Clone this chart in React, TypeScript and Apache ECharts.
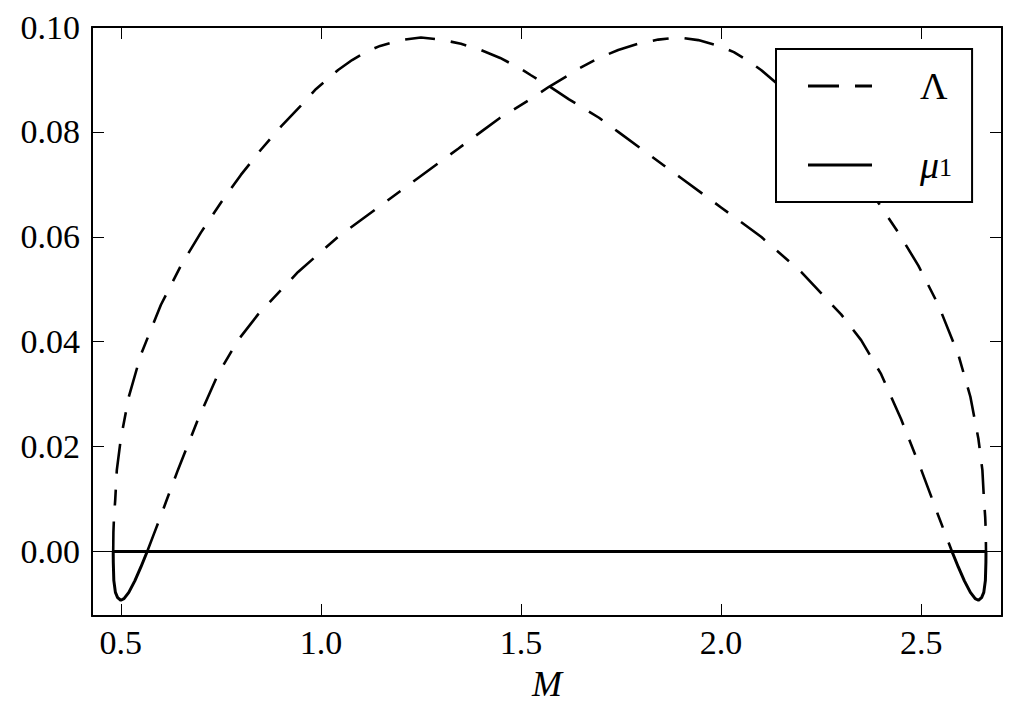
import React, { useEffect, useRef } from "react";
import * as echarts from "echarts";

const xMin = 0.428;
const xMax = 2.702;
const yMin = -0.0123;
const yMax = 0.1;
const xTicks = [0.5, 1.0, 1.5, 2.0, 2.5];
const yTicks = [0, 0.02, 0.04, 0.06, 0.08, 0.1];

const lambdaA: [number, number][] = [
  [0.481, 0], [0.4815, 0.0037], [0.483, 0.0066], [0.486, 0.0098], [0.49, 0.0155],
  [0.5, 0.0215], [0.52, 0.0295], [0.55, 0.0375], [0.6, 0.047], [0.65, 0.0545],
  [0.7, 0.0608], [0.75, 0.0665], [0.8, 0.0718], [0.85, 0.0766], [0.9, 0.081],
  [0.95, 0.085], [0.988, 0.0882], [1.043, 0.0918], [1.078, 0.0937], [1.111, 0.0952],
  [1.148, 0.0964], [1.2, 0.0975], [1.25, 0.098], [1.3, 0.0976], [1.35, 0.0968],
  [1.4, 0.0956], [1.448, 0.0941], [1.5, 0.092], [1.525, 0.0908], [1.573, 0.0886],
  [1.62, 0.0862], [1.695, 0.0827], [1.743, 0.08], [1.8, 0.0768], [1.9, 0.0712],
  [2.0, 0.0656], [2.1, 0.06], [2.2, 0.0533], [2.3, 0.0452], [2.35, 0.0403],
  [2.4, 0.0338], [2.45, 0.0252], [2.5, 0.0156], [2.527, 0.0101], [2.542, 0.007],
  [2.56, 0.0034], [2.577, 0],
];

const lambdaB: [number, number][] = [
  [0.566, 0], [0.583, 0.0034], [0.601, 0.007], [0.616, 0.0101], [0.643, 0.0156],
  [0.693, 0.0252], [0.743, 0.0338], [0.793, 0.0403], [0.843, 0.0452], [0.943, 0.0533],
  [1.043, 0.06], [1.143, 0.0656], [1.243, 0.0712], [1.343, 0.0768], [1.4, 0.08],
  [1.448, 0.0827], [1.523, 0.0862], [1.57, 0.0886], [1.618, 0.0908], [1.643, 0.092],
  [1.695, 0.0941], [1.743, 0.0956], [1.793, 0.0968], [1.843, 0.0976], [1.893, 0.098],
  [1.943, 0.0975], [1.995, 0.0964], [2.032, 0.0952], [2.065, 0.0937], [2.1, 0.0918],
  [2.155, 0.0882], [2.193, 0.085], [2.243, 0.081], [2.293, 0.0766], [2.343, 0.0718],
  [2.393, 0.0665], [2.443, 0.0608], [2.493, 0.0545], [2.543, 0.047], [2.593, 0.0375],
  [2.623, 0.0295], [2.643, 0.0215], [2.653, 0.0155], [2.657, 0.0098], [2.66, 0.0066],
  [2.6615, 0.0037], [2.662, 0],
];

const mu1Zero: [number, number][] = [[0.481, 0], [2.662, 0]];
const mu1DipLeft: [number, number][] = [
  [0.481, 0], [0.4812, -0.002], [0.4825, -0.0055], [0.4865, -0.0078], [0.492, -0.0088],
  [0.5, -0.0093], [0.508, -0.009], [0.52, -0.0078], [0.535, -0.0056], [0.55, -0.003], [0.566, 0],
];
const mu1DipRight: [number, number][] = [
  [2.577, 0], [2.593, -0.003], [2.608, -0.0056], [2.623, -0.0078], [2.635, -0.009],
  [2.643, -0.0093], [2.651, -0.0088], [2.6565, -0.0078], [2.6605, -0.0055], [2.6618, -0.002], [2.662, 0],
];
const zeroLine: [number, number][] = [[xMin, 0], [xMax, 0]];

const FONT = "serif";
const DASH = [30, 16, 16, 16];

export default function App() {
  const ref = useRef<HTMLDivElement>(null);
  useEffect(() => {
    document.body.style.margin = "0";
    const chart = echarts.init(ref.current!, undefined, { renderer: "svg" });
    const axisLine = { show: true, onZero: false, lineStyle: { color: "#000", width: 2 } };
    const tickStyle = { color: "#000", width: 1 };
    chart.setOption({
      animation: false,
      backgroundColor: "#fff",
      textStyle: { fontFamily: FONT, color: "#000" },
      grid: { left: 92, right: 20, top: 27, bottom: 91, containLabel: false },
      xAxis: [
        {
          type: "value",
          position: "bottom",
          min: xMin,
          max: xMax,
          axisLine,
          splitLine: { show: false },
          axisTick: { show: true, inside: true, length: 12, lineStyle: tickStyle, customValues: xTicks },
          name: "M",
          nameLocation: "middle",
          nameGap: 50,
          nameTextStyle: { fontFamily: FONT, fontStyle: "italic", fontSize: 36, color: "#000" },
          axisLabel: {
            show: true,
            margin: 9,
            customValues: xTicks,
            fontFamily: FONT,
            fontSize: 34,
            color: "#000",
            formatter: (v: number) => v.toFixed(1),
          },
        },
        {
          type: "value",
          position: "top",
          min: xMin,
          max: xMax,
          axisLine,
          splitLine: { show: false },
          axisTick: { show: true, inside: true, length: 12, lineStyle: tickStyle, customValues: xTicks },
          axisLabel: { show: false },
        },
      ],
      yAxis: [
        {
          type: "value",
          position: "left",
          min: yMin,
          max: yMax,
          axisLine,
          splitLine: { show: false },
          axisTick: { show: true, inside: true, length: 12, lineStyle: tickStyle, customValues: yTicks },
          axisLabel: {
            show: true,
            margin: 12,
            customValues: yTicks,
            fontFamily: FONT,
            fontSize: 34,
            color: "#000",
            formatter: (v: number) => v.toFixed(2),
          },
        },
        {
          type: "value",
          position: "right",
          min: yMin,
          max: yMax,
          axisLine,
          splitLine: { show: false },
          axisTick: { show: true, inside: true, length: 12, lineStyle: tickStyle, customValues: yTicks },
          axisLabel: { show: false },
        },
      ],
      legend: {
        data: [
          { name: "Λ", icon: "path://M0,0h31v3h-31z M47,0h17v3h-17z" },
          { name: "μ1", icon: "path://M0,0h64v3h-64z" },
        ],
        orient: "vertical",
        left: 776,
        top: 49,
        itemWidth: 64,
        itemHeight: 3,
        itemGap: 35,
        padding: [18, 20, 18, 32],
        borderColor: "#000",
        borderWidth: 2,
        borderRadius: 0,
        backgroundColor: "#fff",
        itemStyle: { color: "#000", borderWidth: 0 },
        lineStyle: { width: 0, opacity: 0 },
        formatter: (name: string) =>
          name === "μ1" ? "{gap|}{mu|μ}{sub|1}" : "{gap|}{lam|Λ}",
        textStyle: {
          color: "#000",
          fontFamily: FONT,
          rich: {
            gap: { width: 43, height: 30 },
            lam: { fontFamily: FONT, fontSize: 38, color: "#000", lineHeight: 30 },
            mu: { fontFamily: FONT, fontStyle: "italic", fontSize: 38, color: "#000", lineHeight: 30 },
            sub: { fontFamily: FONT, fontSize: 26, color: "#000", verticalAlign: "bottom", lineHeight: 30, padding: [14, 0, 0, 0] },
          },
        },
      },
      series: [
        { type: "line", name: "zero", data: zeroLine, symbol: "none", silent: true, lineStyle: { color: "#000", width: 1 }, z: 1 },
        { type: "line", name: "Λ", data: lambdaA, symbol: "none", lineStyle: { color: "#000", width: 2.6, type: DASH, cap: "butt" }, itemStyle: { color: "#000" }, z: 3 },
        { type: "line", name: "Λ", data: lambdaB, symbol: "none", lineStyle: { color: "#000", width: 2.6, type: DASH, cap: "butt" }, itemStyle: { color: "#000" }, z: 3 },
        { type: "line", name: "μ1", data: mu1Zero, symbol: "none", lineStyle: { color: "#000", width: 3 }, itemStyle: { color: "#000" }, z: 2 },
        { type: "line", name: "μ1", data: mu1DipLeft, symbol: "none", lineStyle: { color: "#000", width: 3 }, itemStyle: { color: "#000" }, z: 2 },
        { type: "line", name: "μ1", data: mu1DipRight, symbol: "none", lineStyle: { color: "#000", width: 3 }, itemStyle: { color: "#000" }, z: 2 },
      ],
    });
    return () => chart.dispose();
  }, []);
  return <div ref={ref} style={{ width: 1022, height: 707 }} />;
}
